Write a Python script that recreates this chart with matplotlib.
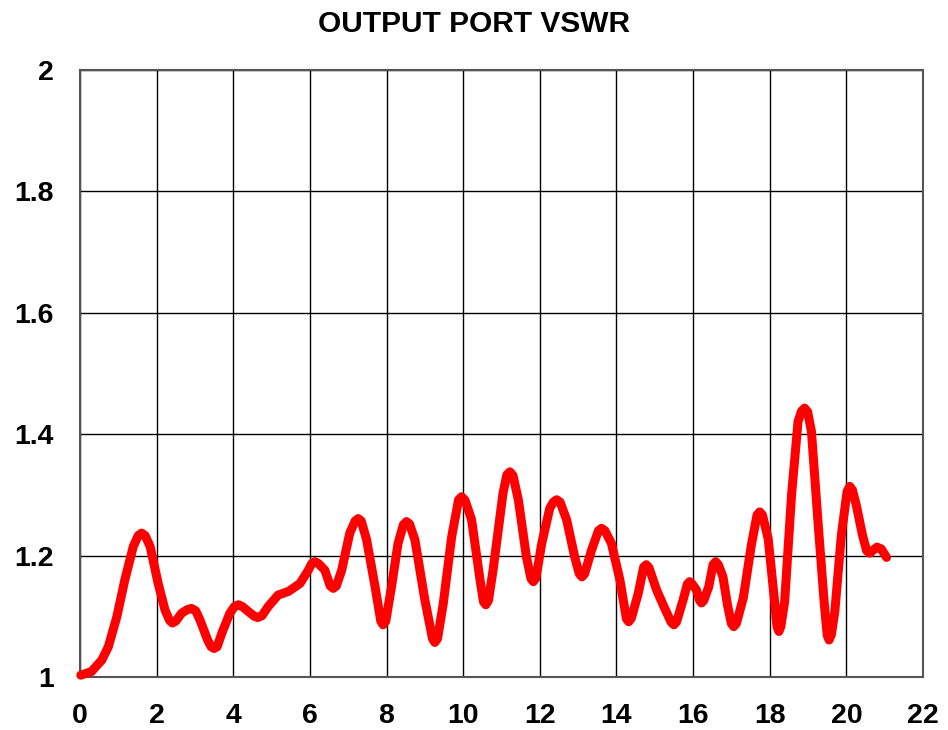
import matplotlib
matplotlib.use("Agg")
import matplotlib.pyplot as plt

plt.rcParams['font.family'] = ['Liberation Sans', 'DejaVu Sans']

# frequency (GHz) and VSWR
freq = [0.02, 0.30, 0.57, 0.74, 0.96, 1.17, 1.39, 1.52, 1.61, 1.70, 1.83, 2.04, 2.22, 2.34,
        2.41, 2.50, 2.65, 2.80, 2.91, 3.02, 3.13, 3.33, 3.42, 3.50, 3.58, 3.70, 3.91, 4.03,
        4.13, 4.24, 4.39, 4.55, 4.64, 4.75, 4.91, 5.17, 5.44, 5.74, 5.95, 6.05, 6.13, 6.22,
        6.39, 6.53, 6.61, 6.69, 6.83, 7.04, 7.18, 7.26, 7.34, 7.48, 7.70, 7.85, 7.91, 7.98,
        8.13, 8.30, 8.44, 8.52, 8.60, 8.74, 9.00, 9.20, 9.26, 9.33, 9.48, 9.70, 9.88, 9.96,
        10.05, 10.22, 10.44, 10.53, 10.59, 10.66, 10.78, 11.04, 11.14, 11.22, 11.30, 11.44,
        11.65, 11.77, 11.83, 11.90, 12.05, 12.26, 12.35, 12.44, 12.53, 12.70, 12.91, 13.03,
        13.10, 13.17, 13.35, 13.53, 13.61, 13.70, 13.87, 14.09, 14.26, 14.32, 14.39, 14.57,
        14.71, 14.78, 14.85, 15.05, 15.26, 15.43, 15.50, 15.57, 15.74, 15.85, 15.91, 15.98,
        16.09, 16.17, 16.22, 16.28, 16.41, 16.52, 16.59, 16.66, 16.78, 16.90, 17.00, 17.06,
        17.13, 17.31, 17.52, 17.67, 17.74, 17.81, 17.96, 18.11, 18.19, 18.24, 18.29, 18.39,
        18.57, 18.74, 18.83, 18.91, 18.99, 19.09, 19.26, 19.42, 19.50, 19.55, 19.61, 19.70,
        19.87, 20.02, 20.09, 20.16, 20.26, 20.42, 20.53, 20.61, 20.70, 20.80, 20.91, 21.05]
vswr = [1.003, 1.009, 1.028, 1.050, 1.099, 1.160, 1.215, 1.233, 1.237, 1.233, 1.215, 1.154, 1.110, 1.093,
        1.089, 1.092, 1.105, 1.111, 1.113, 1.109, 1.094, 1.061, 1.050, 1.047, 1.050, 1.072, 1.105, 1.116,
        1.119, 1.116, 1.108, 1.100, 1.098, 1.101, 1.116, 1.135, 1.141, 1.154, 1.175, 1.187, 1.190, 1.187,
        1.176, 1.150, 1.146, 1.150, 1.176, 1.237, 1.257, 1.261, 1.257, 1.226, 1.149, 1.092, 1.086, 1.092,
        1.149, 1.220, 1.251, 1.256, 1.252, 1.226, 1.127, 1.063, 1.057, 1.063, 1.121, 1.231, 1.292, 1.297,
        1.291, 1.259, 1.160, 1.124, 1.119, 1.126, 1.176, 1.303, 1.333, 1.338, 1.332, 1.292,
        1.198, 1.162, 1.157, 1.163, 1.220, 1.278, 1.288, 1.292, 1.288, 1.259, 1.198, 1.170,
        1.165, 1.170, 1.209, 1.241, 1.245, 1.241, 1.220, 1.160, 1.096, 1.091, 1.097, 1.138,
        1.181, 1.185, 1.180, 1.143, 1.113, 1.090, 1.086, 1.091, 1.127, 1.153, 1.157, 1.153,
        1.143, 1.126, 1.122, 1.126, 1.149, 1.185, 1.190, 1.185, 1.165, 1.118, 1.088, 1.083,
        1.088, 1.130, 1.217, 1.267, 1.272, 1.267, 1.228, 1.135, 1.083, 1.075, 1.083, 1.124,
        1.300, 1.421, 1.438, 1.443, 1.437, 1.404, 1.256, 1.124, 1.069, 1.061, 1.070, 1.108,
        1.234, 1.306, 1.314, 1.308, 1.283, 1.234, 1.208, 1.204, 1.209, 1.214, 1.211, 1.197]

xticks = [0, 2, 4, 6, 8, 10, 12, 14, 16, 18, 20, 22]
yticks = [1, 1.2, 1.4, 1.6, 1.8, 2]
ylabels = ['1', '1.2', '1.4', '1.6', '1.8', '2']

fig = plt.figure(figsize=(9.48, 7.30), dpi=100)
ax = fig.add_axes([0.0844, 0.0726, 0.8892, 0.8315])

ax.plot(freq, vswr, color='#ff0000', lw=6.5, solid_joinstyle='round', solid_capstyle='round',
        zorder=3, clip_on=False)

ax.set_xlim(0, 22)
ax.set_ylim(1, 2)
ax.set_xticks(xticks)
ax.set_yticks(yticks)
ax.set_yticklabels(ylabels)
ax.grid(True, color='black', lw=1.0)
for s in ax.spines.values():
    s.set_color('#555555')
    s.set_linewidth(1.5)
ax.tick_params(length=0, labelsize=20.5, pad=19)
for lab in ax.get_xticklabels() + ax.get_yticklabels():
    lab.set_fontweight('bold')

fig.suptitle('OUTPUT PORT VSWR', fontsize=21.5, fontweight='bold', y=0.986)

fig.savefig('out.png', dpi=100)
